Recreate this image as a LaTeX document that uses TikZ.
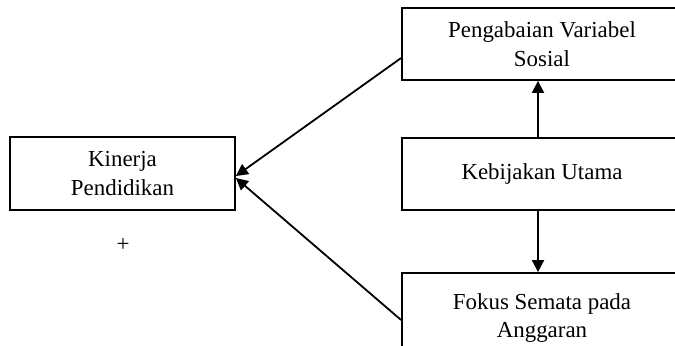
\documentclass[tikz,border=0pt]{standalone}
\usepackage{fontspec}
\setmainfont{Liberation Serif}
\usetikzlibrary{arrows.meta}
\newcommand{\drawarrow}{\draw[line width=1.8bp,-{Triangle[length=12bp,width=12bp]}]}
\newcommand{\labelfont}{\fontsize{23}{29}\selectfont}
\tikzset{
  box/.style={draw,line width=1.8bp,minimum width=280bp,minimum height=72bp,
    inner sep=0pt,align=center,font=\labelfont},
}
\begin{document}
\begin{tikzpicture}[x=1bp,y=-1bp]
\useasboundingbox (0,0) rectangle (675,345);
\clip (0,0) rectangle (675,345);
% boxes
\node[box,minimum width=225bp,minimum height=73bp] (kinerja) at (122.5,173.5) {Kinerja\\Pendidikan};
\node[box] (pengabaian) at (542,44) {Pengabaian Variabel\\Sosial};
\node[box] (kebijakan) at (542,174) {Kebijakan Utama};
\node[box,minimum height=90bp] (fokus) at (542,318) {Fokus Semata pada\\Anggaran};
\node[font=\labelfont] (plus) at (123,245) {+};
% arrows
\drawarrow ([xshift=-4bp]kebijakan.north) -- ([xshift=-4bp]pengabaian.south);
\drawarrow ([xshift=-4bp]kebijakan.south) -- ([xshift=-4bp]fokus.north);
\drawarrow ([yshift=-14bp]pengabaian.west) -- ([yshift=-2.5bp]kinerja.east);
\drawarrow ([yshift=-2bp]fokus.west) -- ([yshift=-4.5bp]kinerja.east);
\end{tikzpicture}
\end{document}
